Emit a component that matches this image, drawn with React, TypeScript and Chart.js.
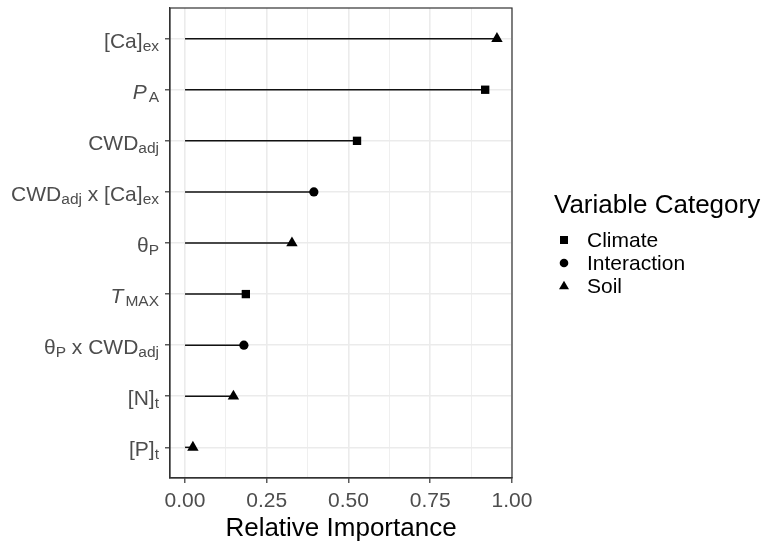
import React, { useEffect, useRef } from "react";
import { Chart, registerables } from "chart.js";

Chart.register(...registerables);

// ---- data ----
const variables = [
  "[Ca]ex",
  "PA",
  "CWDadj",
  "CWDadj x [Ca]ex",
  "θP",
  "TMAX",
  "θP x CWDadj",
  "[N]t",
  "[P]t",
];
// rich-text pieces of each label: [text, style] with style "" | "it" | "sub"
const labelParts: [string, string][][] = [
  [["[Ca]", ""], ["ex", "sub"]],
  [["P", "it"], ["A", "sub"]],
  [["CWD", ""], ["adj", "sub"]],
  [["CWD", ""], ["adj", "sub"], [" x [Ca]", ""], ["ex", "sub"]],
  [["θ", ""], ["P", "sub"]],
  [["T", "it"], ["MAX", "sub"]],
  [["θ", ""], ["P", "sub"], [" x CWD", ""], ["adj", "sub"]],
  [["[N]", ""], ["t", "sub"]],
  [["[P]", ""], ["t", "sub"]],
];
const importance = [0.954, 0.918, 0.526, 0.394, 0.327, 0.186, 0.18, 0.148, 0.024];
const categoryOf = ["Soil", "Climate", "Climate", "Interaction", "Soil", "Climate", "Interaction", "Soil", "Soil"];
const categories = ["Climate", "Interaction", "Soil"];
const categoryShapes = ["rect", "circle", "triangle"];
const xMajorTicks = [0, 0.25, 0.5, 0.75, 1.0];
const xMinorTicks = [0.125, 0.375, 0.625, 0.875];
const xTitle = "Relative Importance";
const legendTitle = "Variable Category";

const FONT = '"Liberation Sans", Arial, sans-serif';

function drawRich(ctx: CanvasRenderingContext2D, parts: [string, string][], right: number, y: number) {
  const fontFor = (s: string) =>
    s === "sub" ? `15.5px ${FONT}` : s === "it" ? `italic 21px ${FONT}` : `21px ${FONT}`;
  const widths = parts.map(([t, s]) => {
    ctx.font = fontFor(s);
    return ctx.measureText(t).width + (s === "it" ? 2 : 0);
  });
  const total = widths.reduce((a, b) => a + b, 0);
  let x = right - total;
  ctx.textAlign = "left";
  ctx.textBaseline = "alphabetic";
  parts.forEach(([t, s], i) => {
    ctx.font = fontFor(s);
    ctx.fillText(t, x, s === "sub" ? y + 12 : y + 9);
    x += widths[i];
  });
}

function drawShape(ctx: CanvasRenderingContext2D, shape: string, x: number, y: number) {
  ctx.beginPath();
  if (shape === "rect") {
    ctx.rect(x - 4, y - 4, 8, 8);
  } else if (shape === "circle") {
    ctx.arc(x, y, 4.3, 0, Math.PI * 2);
  } else {
    const s = 10;
    const h = (s * Math.sqrt(3)) / 2;
    ctx.moveTo(x, y - h * 0.62);
    ctx.lineTo(x + s / 2, y + h * 0.38);
    ctx.lineTo(x - s / 2, y + h * 0.38);
    ctx.closePath();
  }
  ctx.fill();
}

const overlayPlugin = {
  id: "overlay",
  afterDraw(chart: any) {
    const ctx: CanvasRenderingContext2D = chart.ctx;
    const { left, right, top, bottom } = chart.chartArea;
    const yScale = chart.scales.y;
    ctx.save();
    // panel border
    ctx.strokeStyle = "#333333";
    ctx.lineWidth = 1.2;
    ctx.strokeRect(left, top, right - left, bottom - top);
    // y labels
    ctx.fillStyle = "#4D4D4D";
    labelParts.forEach((parts, i) => {
      const y = yScale.getPixelForValue(i + 1);
      drawRich(ctx, parts, left - 11, y);
    });
    // legend
    ctx.fillStyle = "#000000";
    ctx.font = `26px ${FONT}`;
    ctx.textAlign = "left";
    ctx.textBaseline = "middle";
    ctx.fillText(legendTitle, 554, 206);
    categories.forEach((c, k) => {
      const y = 240 + k * 23;
      drawShape(ctx, categoryShapes[k], 564, y);
      ctx.font = `21px ${FONT}`;
      ctx.textBaseline = "middle";
      ctx.fillText(c, 587, y + 1);
    });
    ctx.restore();
  },
};

export default function App() {
  const ref = useRef<HTMLCanvasElement>(null);
  useEffect(() => {
    const canvas = ref.current!;
    const segDatasets = variables.map((v, i) => ({
      type: "line" as const,
      label: v,
      data: [
        { x: 0, y: i + 1 },
        { x: importance[i], y: i + 1 },
      ],
      borderColor: "#111111",
      borderWidth: 1.5,
      pointRadius: 0,
      order: 2,
    }));
    const pointRadii = [5.9, 4.6, 6.6];
    const pointDatasets = categories.map((c, k) => ({
      type: "scatter" as const,
      label: c,
      data: variables
        .map((v, i) => ({ x: importance[i], y: i + 1, cat: categoryOf[i] }))
        .filter((d) => d.cat === c),
      pointStyle: categoryShapes[k],
      pointRadius: pointRadii[k],
      pointHoverRadius: pointRadii[k],
      backgroundColor: "#000000",
      borderColor: "#000000",
      borderWidth: 0,
      order: 1,
    }));
    const isMajor = (v: number) => xMajorTicks.some((t) => Math.abs(t - v) < 1e-9);
    const chart = new Chart(canvas, {
      type: "scatter",
      data: { datasets: [...segDatasets, ...pointDatasets] as any },
      options: {
        responsive: false,
        animation: false,
        devicePixelRatio: 1,
        layout: { padding: { left: 0, top: 8, right: 252, bottom: 0 } },
        plugins: { legend: { display: false }, tooltip: { enabled: false } },
        scales: {
          x: {
            type: "linear",
            min: -0.046,
            max: 1.0,
            afterBuildTicks: (s: any) => {
              s.ticks = [...xMajorTicks, ...xMinorTicks].sort((a, b) => a - b).map((v) => ({ value: v }));
            },
            afterFit: (s: any) => {
              s.height = 66;
            },
            grid: {
              color: "#EBEBEB",
              lineWidth: (c: any) => (c.tick && isMajor(c.tick.value) ? 1.6 : 0.8),
              drawTicks: true,
              tickLength: 5,
              tickColor: (c: any) => (c.tick && isMajor(c.tick.value) ? "#333333" : "rgba(0,0,0,0)"),
              tickWidth: 1.2,
            },
            border: { display: true, color: "#333333", width: 1.2 },
            ticks: {
              autoSkip: false,
              maxRotation: 0,
              padding: 6,
              color: "#4D4D4D",
              font: { family: FONT, size: 21 },
              callback: (v: any) => (isMajor(Number(v)) ? Number(v).toFixed(2) : ""),
            },
            title: {
              display: true,
              text: xTitle,
              color: "#000000",
              font: { family: FONT, size: 26 },
              padding: { top: 0, bottom: 0 },
            },
          },
          y: {
            type: "linear",
            reverse: true,
            min: 0.4,
            max: 9.6,
            afterBuildTicks: (s: any) => {
              s.ticks = variables.map((_, i) => ({ value: i + 1 }));
            },
            afterFit: (s: any) => {
              s.width = 170;
            },
            grid: {
              color: "#EBEBEB",
              lineWidth: 1.6,
              drawTicks: true,
              tickLength: 5,
              tickColor: "#333333",
              tickWidth: 1.2,
            },
            border: { display: true, color: "#333333", width: 1.2 },
            ticks: { display: false },
          },
        },
      },
      plugins: [overlayPlugin],
    });
    return () => chart.destroy();
  }, []);
  return (
    <div style={{ position: "fixed", left: 0, top: 0, width: 764, height: 544, background: "#ffffff" }}>
      <canvas ref={ref} width={764} height={544} style={{ width: 764, height: 544, display: "block" }} />
    </div>
  );
}
